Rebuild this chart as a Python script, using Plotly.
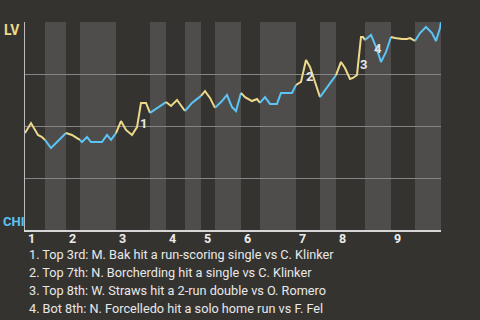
import plotly.graph_objects as go

# Game progress (plate-appearance scale) and LV win probability (%)
progress = [0, 6, 13, 17, 20, 26, 32, 37, 41, 47, 52, 55, 57, 62, 66, 77, 82, 86, 91,
            96, 101, 107, 112, 116, 121, 125, 132, 141, 146, 152, 156, 160, 167, 176,
            180, 185, 190, 196, 202, 207, 211, 216, 220, 227, 232, 235, 240, 245, 252,
            256, 267, 271, 276, 281, 285, 291, 295, 300, 305, 311, 316, 320, 325, 328,
            332, 333, 336, 338, 340, 346, 351, 356, 361, 366, 370, 377, 382, 385, 390,
            395, 401, 407, 411, 415, 416]
lv_win_pct = [46.6, 51.4, 45.7, 44.7, 43.3, 39.4, 42.3, 44.7, 46.6, 45.7, 44.2, 43.3, 42.3,
              44.7, 42.3, 42.3, 45.7, 43.3, 46.6, 52.4, 48.1, 45.7, 49.5, 61.1, 61.1, 56.3,
              58.7, 61.5, 59.6, 62.5, 60.1, 57.2, 61.1, 64.5, 66.8, 63.5, 58.7, 61.5, 64.9,
              59.1, 57.2, 65.9, 63.9, 62.0, 63.0, 61.1, 63.9, 60.6, 60.6, 65.9, 65.9, 69.7,
              71.2, 81.7, 78.4, 69.7, 63.9, 67.3, 70.7, 74.5, 80.8, 77.9, 72.6, 73.1, 74.5,
              79.3, 92.8, 92.8, 91.3, 93.8, 88.0, 80.8, 85.6, 92.8, 92.3, 91.8, 91.8, 92.3,
              90.9, 94.7, 97.6, 94.7, 90.9, 97.1, 100.0]

# Start of each half-inning on the progress scale (top 1st ... bot 9th, end)
half_starts = [0, 20, 41, 55, 91, 125, 141, 160, 176, 190, 216, 235, 271, 295, 311,
               340, 366, 390, 416]
inning_labels = ["1", "2", "3", "4", "5", "6", "7", "8", "9"]

# Key events: label, progress, win pct
event_ids = ["1", "2", "3", "4"]
event_x = [118, 284, 338, 353]
event_y = [51.4, 73.6, 79.8, 87.5]
notes = [
    "1. Top 3rd: M. Bak hit a run-scoring single vs C. Klinker",
    "2. Top 7th: N. Borcherding hit a single vs C. Klinker",
    "3. Top 8th: W. Straws hit a 2-run double vs O. Romero",
    "4. Bot 8th: N. Forcelledo hit a solo home run vs F. Fel",
]

BG = "#353330"
BAND = "#4e4d4b"
YEL = "#ecd98a"
BLU = "#5bc4f5"
FONT = "Roboto"

W, H = 480, 320
ML, MR, MT, MB = 25, 39, 22, 90
PW, PH = W - ML - MR, H - MT - MB


def px_x(px):
    return (px - ML) / PW


def px_y(py):
    return (H - MB - py) / PH


def half_index(x):
    for i in range(len(half_starts) - 1):
        if half_starts[i] <= x < half_starts[i + 1]:
            return i
    return len(half_starts) - 2


fig = go.Figure()

# colour segments by half-inning (top = LV batting yellow, bottom = CHI blue)
runs = []
for i in range(len(progress) - 1):
    mid = (progress[i] + progress[i + 1]) / 2
    col = YEL if half_index(mid) % 2 == 0 else BLU
    if runs and runs[-1][0] == col:
        runs[-1][1].append(i + 1)
    else:
        runs.append([col, [i, i + 1]])
for col, idx in runs:
    fig.add_trace(go.Scatter(
        x=[progress[k] for k in idx], y=[lv_win_pct[k] for k in idx],
        mode="lines", line=dict(color=col, width=2), hoverinfo="skip",
        showlegend=False))

shapes = []
for i in range(len(half_starts) - 1):
    if i % 2 == 1:
        shapes.append(dict(type="rect", xref="x", yref="paper",
                           x0=half_starts[i], x1=half_starts[i + 1], y0=0, y1=1,
                           fillcolor=BAND, line=dict(width=0), layer="between"))

ann = []
for lab, ex, ey in zip(event_ids, event_x, event_y):
    ann.append(dict(x=ex, y=ey, xref="x", yref="y", text=f"<b>{lab}</b>",
                    showarrow=False, font=dict(family=FONT, size=13, color="#e6e6e6")))
for k, lab in enumerate(inning_labels):
    ann.append(dict(x=half_starts[2 * k], y=px_y(238), xref="x", yref="paper",
                    text=f"<b>{lab}</b>", showarrow=False, xanchor="left",
                    yanchor="middle", xshift=1,
                    font=dict(family=FONT, size=12.5, color="#ececec")))
for k, t in enumerate(notes):
    ann.append(dict(x=px_x(27), y=px_y(254 + 18 * k), xref="paper", yref="paper",
                    text=t, showarrow=False, xanchor="left", yanchor="middle",
                    font=dict(family=FONT, size=12.7, color="#e8e8e8")))
ann.append(dict(x=px_x(2), y=px_y(30), xref="paper", yref="paper", text="<b>LV</b>",
                showarrow=False, xanchor="left", yanchor="middle",
                font=dict(family=FONT, size=14, color=YEL)))
ann.append(dict(x=px_x(1), y=px_y(221), xref="paper", yref="paper", text="<b>CHI</b>",
                showarrow=False, xanchor="left", yanchor="middle",
                font=dict(family=FONT, size=13, color=BLU)))

fig.update_layout(
    width=W, height=H,
    margin=dict(l=ML, r=MR, t=MT, b=MB, pad=0),
    paper_bgcolor=BG, plot_bgcolor=BG,
    shapes=shapes, annotations=ann,
    xaxis=dict(range=[0, 416], showgrid=False, zeroline=False, showticklabels=False,
               ticks="", showline=True, linecolor="#d6d6d6", linewidth=2),
    yaxis=dict(range=[0, 100], tickvals=[25, 50, 75, 100], showticklabels=False,
               ticks="", gridcolor="#858585", gridwidth=1, zeroline=False,
               showline=True, linecolor="#bdbdbd", linewidth=1),
)

fig.write_html("out.html", config={"displayModeBar": False})
